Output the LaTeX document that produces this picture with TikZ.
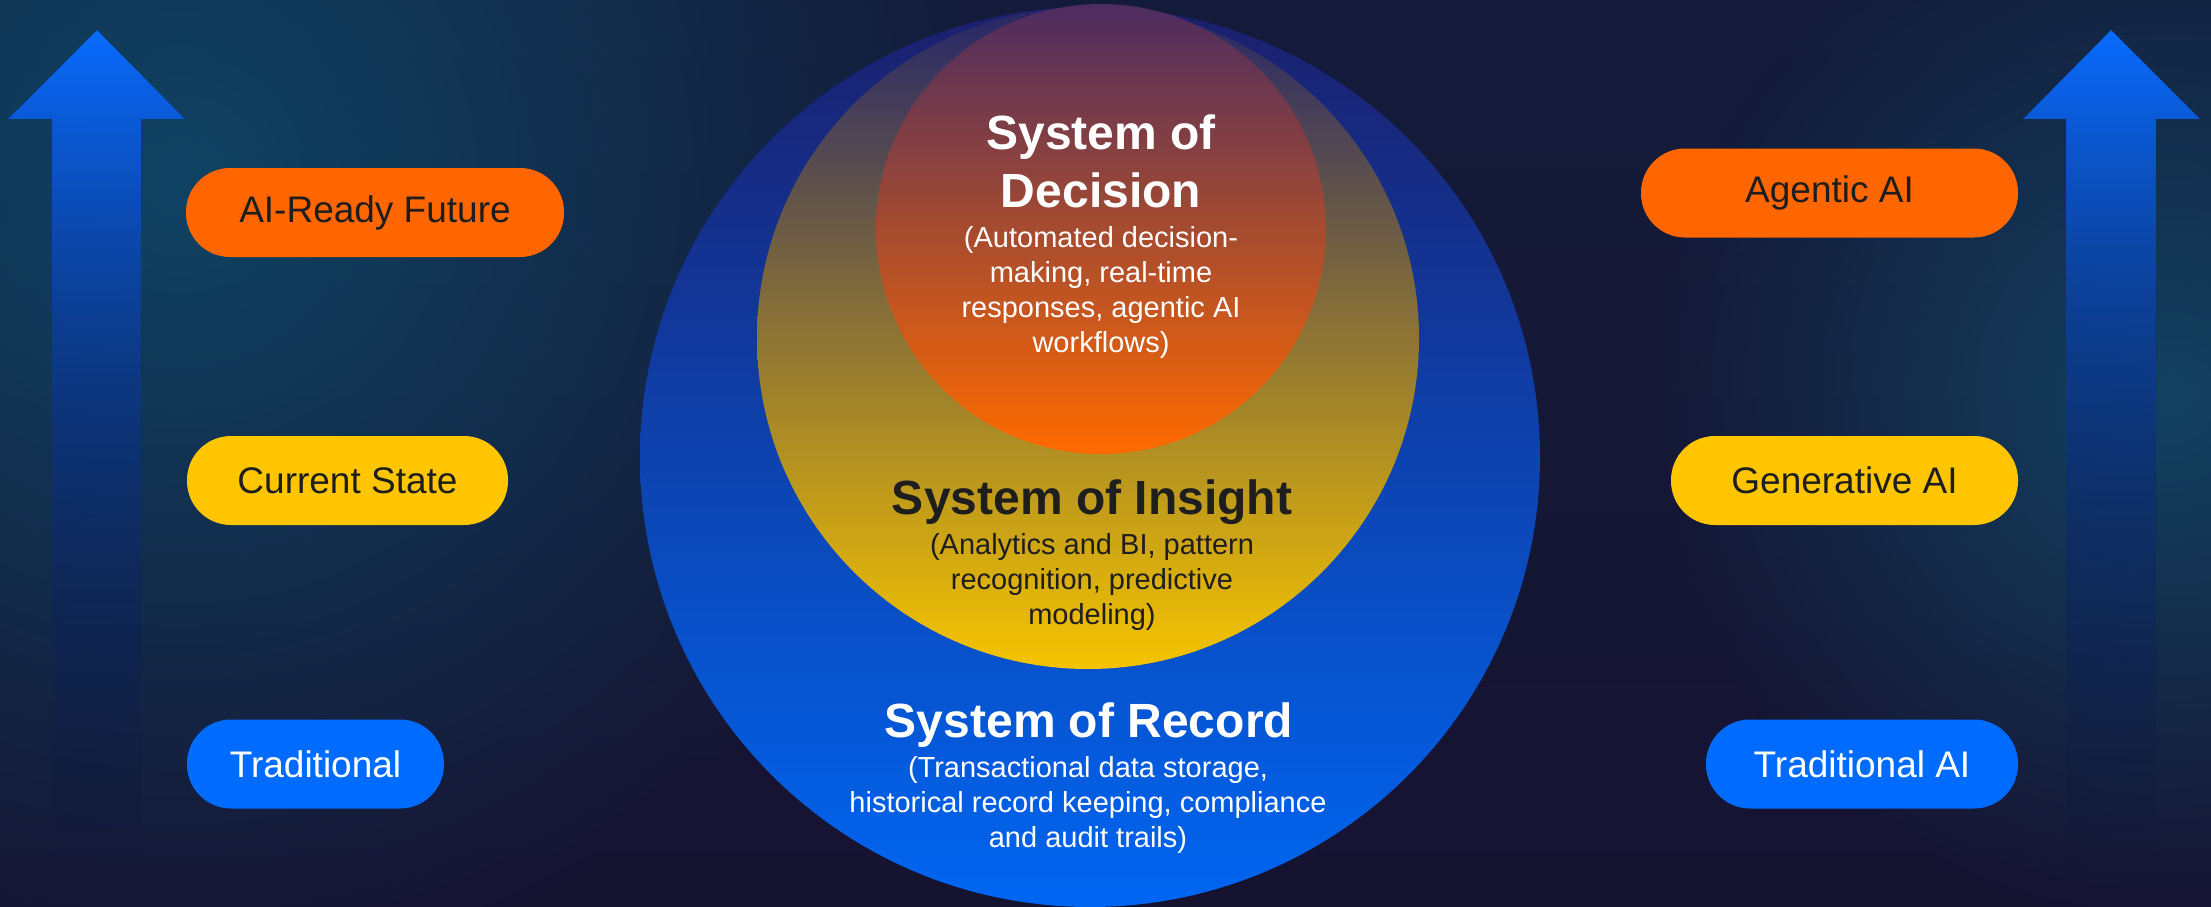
\documentclass[tikz,border=0pt]{standalone}
\usepackage{fontspec}
\setmainfont{Liberation Sans}
\usetikzlibrary{fadings,shapes.misc}
\definecolor{bgtop}{HTML}{141B3A}
\definecolor{bgbot}{HTML}{161331}
\definecolor{glowA}{HTML}{0E5576}
\definecolor{glowB}{HTML}{135474}
\definecolor{recTop}{HTML}{1B1F6C}
\definecolor{recMid}{HTML}{0F3DAE}
\definecolor{recBot}{HTML}{0066F2}
\definecolor{insTop}{HTML}{262668}
\definecolor{insMid}{HTML}{786650}
\definecolor{insBot}{HTML}{F6C400}
\definecolor{decTop}{HTML}{4C2C60}
\definecolor{decMid}{HTML}{B4542E}
\definecolor{decBot}{HTML}{FF6A00}
\definecolor{arrTop}{HTML}{0A6CFF}
\definecolor{arrBot}{HTML}{1A2A7A}
\definecolor{pillOrange}{HTML}{FF6600}
\definecolor{pillYellow}{HTML}{FFC600}
\definecolor{pillBlue}{HTML}{006CFF}
\definecolor{ink}{HTML}{1E1E1E}
\tikzfading[name=glowfade, inner color=transparent!30, outer color=transparent!100]
\tikzfading[name=arrowfade, top color=transparent!0, middle color=transparent!15, bottom color=transparent!100]
\begin{document}
\begin{tikzpicture}[x=1pt,y=-1pt,
  pill/.style={rectangle, rounded corners=44pt, minimum height=89pt, inner sep=0pt, font=\fontsize{37}{44}\selectfont},
  ring/.style={circle, inner sep=0pt, outer sep=0pt},
  ttl/.style={align=center, font=\bfseries\fontsize{48}{58}\selectfont, inner sep=0pt, anchor=base},
  subtxt/.style={align=center, font=\fontsize{29}{35}\selectfont, inner sep=0pt, anchor=base},
  bigarrow/.style={top color=arrTop, bottom color=arrBot, path fading=arrowfade}]
\useasboundingbox (0,0) rectangle (2211,907);
% background
\shade[top color=bgtop, bottom color=bgbot] (0,0) rectangle (2211,907);
\fill[glowA, path fading=glowfade] (180,180) circle[radius=800pt];
\fill[glowB, path fading=glowfade] (2170,400) circle[radius=520pt];
% arrows
\fill[bigarrow] (97,29) -- (185,118) -- (141,118) -- (141,860) -- (52,860) -- (52,118) -- (8,118) -- cycle;
\fill[bigarrow] (2111,29) -- (2200,118) -- (2156,118) -- (2156,860) -- (2066,860) -- (2066,118) -- (2023,118) -- cycle;
% circles
\node[ring, minimum size=900pt, top color=recTop, middle color=recMid, bottom color=recBot] (rec) at (1090,457) {};
\node[ring, minimum size=662pt, top color=insTop, middle color=insMid, bottom color=insBot] (ins) at (1088,338) {};
\node[ring, minimum size=450pt, top color=decTop, middle color=decMid, bottom color=decBot] (dec) at (1101,229) {};
% texts in circles (base anchor = baseline of the last line)
\node[ttl, text=white] (dectitle) at (1101,207) {System of\\Decision};
\node[subtxt, text=white] (decsub) at (1101,352) {(Automated decision-\\making, real-time\\responses, agentic AI\\workflows)};
\node[ttl, text=ink] (institle) at (1092,514) {System of Insight};
\node[subtxt, text=ink] (inssub) at (1092,624) {(Analytics and BI, pattern\\recognition, predictive\\modeling)};
\node[ttl, text=white] (rectitle) at (1089,737) {System of Record};
\node[subtxt, text=white] (recsub) at (1088,847) {(Transactional data storage,\\historical record keeping, compliance\\and audit trails)};
% left pills
\node[pill, fill=pillOrange, text=ink, minimum width=378pt] (future) at (375,212.5) {AI-Ready Future};
\node[pill, fill=pillYellow, text=ink, minimum width=321pt] (current) at (347.5,480.5) {Current State};
\node[pill, fill=pillBlue, text=white, minimum width=257pt] (trad) at (315.5,764) {Traditional};
% right pills
\node[pill, fill=pillOrange, text=ink, minimum width=377pt] (agentic) at (1829.5,193) {Agentic AI};
\node[pill, fill=pillYellow, text=ink, minimum width=347pt] (genai) at (1844.5,480.5) {Generative AI};
\node[pill, fill=pillBlue, text=white, minimum width=312pt] (tradai) at (1862,764) {Traditional AI};
\end{tikzpicture}
\end{document}
